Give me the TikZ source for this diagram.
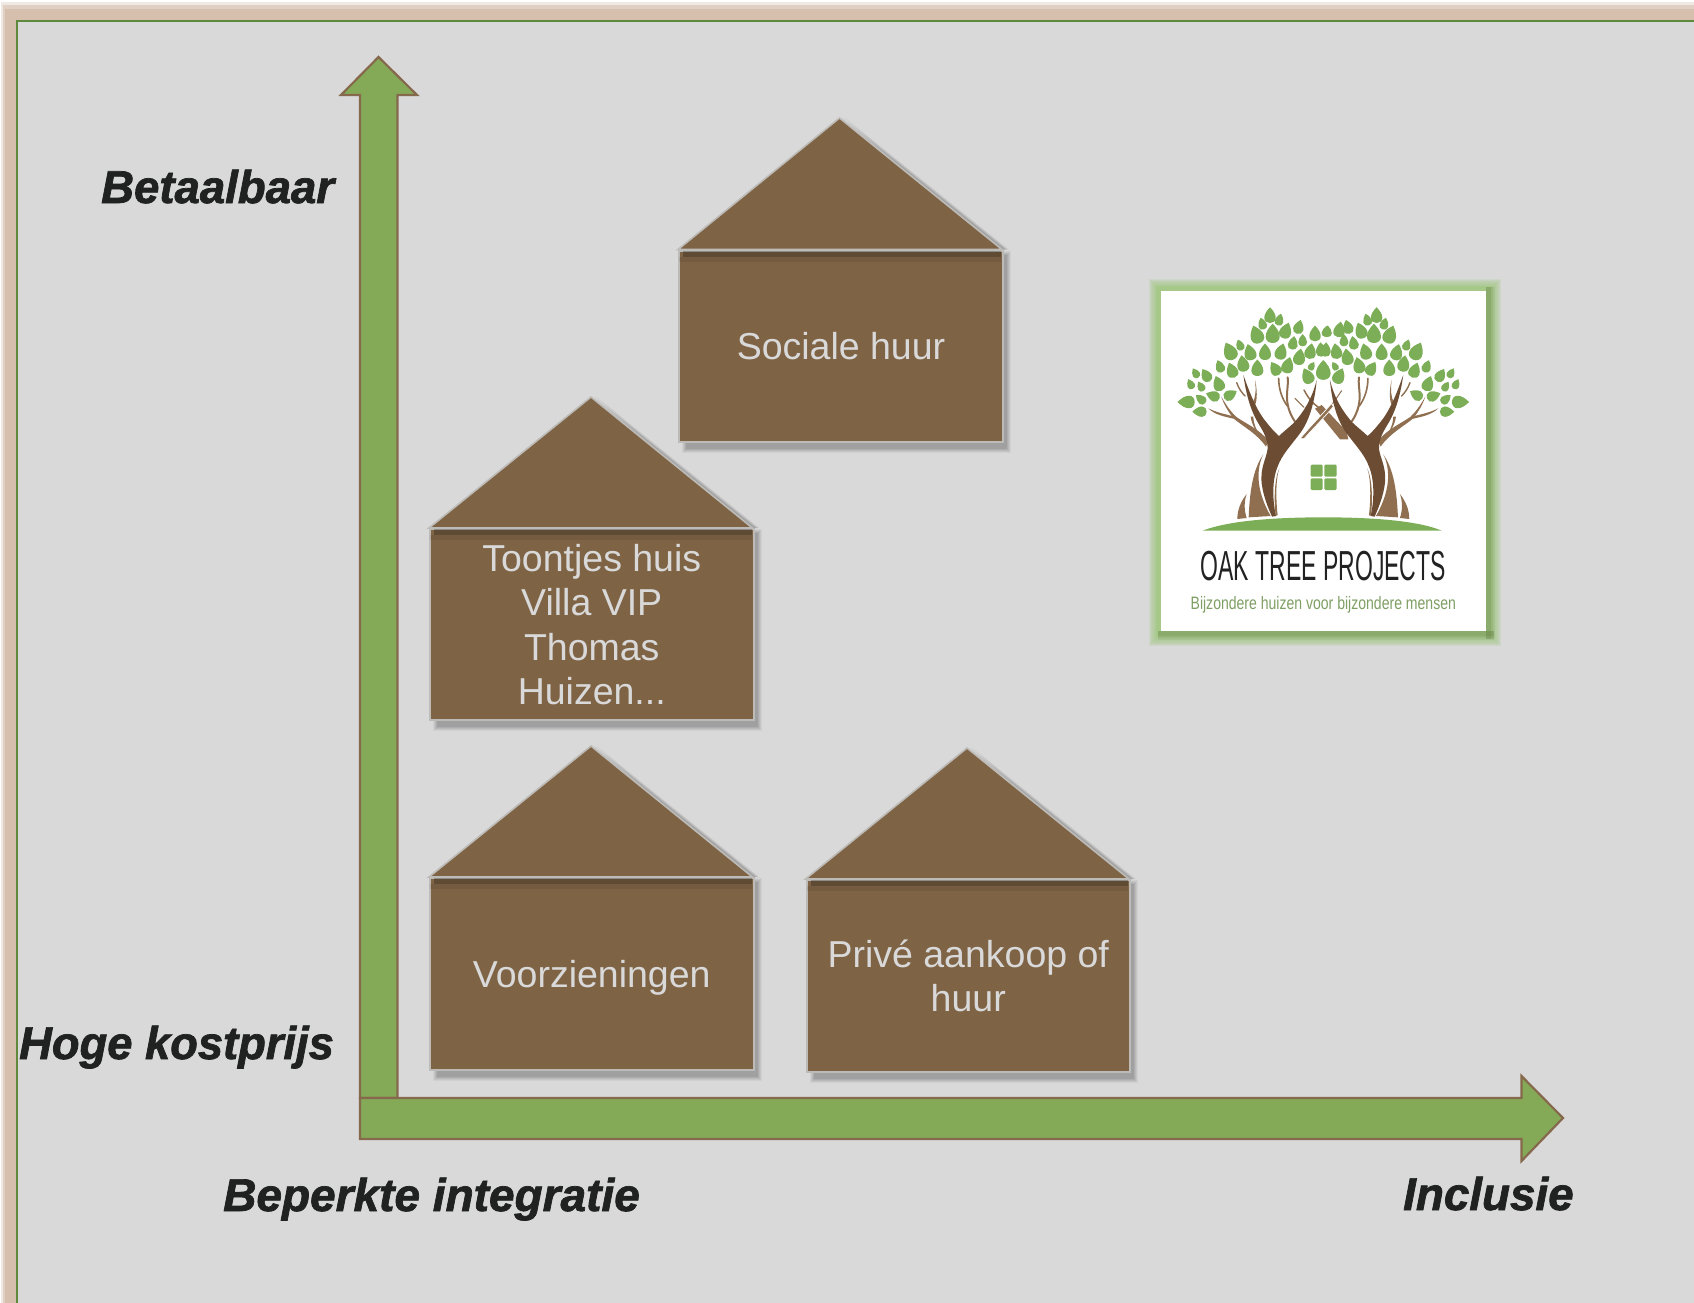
\documentclass[tikz,border=0pt]{standalone}
\usepackage{fontspec}
\usepackage{graphicx}
\setmainfont{Liberation Sans}
\newfontfamily\labfont[BoldItalicFeatures={FakeBold=1.6}]{Liberation Sans}
\definecolor{panel}{HTML}{D9D9D9}
\definecolor{band}{HTML}{D6BFAD}
\definecolor{edge}{HTML}{5F8A3C}
\definecolor{arrowg}{HTML}{84AA58}
\definecolor{arrowb}{HTML}{86694C}
\definecolor{hbrown}{HTML}{7F6345}
\definecolor{hline}{HTML}{BDBBB8}
\definecolor{labelk}{HTML}{202222}
\definecolor{leafg}{HTML}{7BAE57}
\definecolor{dkb}{HTML}{6C4D34}
\definecolor{ltb}{HTML}{8F6F50}
\definecolor{tagg}{HTML}{7F9F64}
\definecolor{glowg}{HTML}{A6C98A}
\definecolor{logok}{HTML}{222222}
\tikzset{
  axisarrow/.style={fill=arrowg,draw=arrowb,line width=2.2pt,line join=miter},
  axislabel/.style={font=\labfont\fontsize{46}{50}\selectfont\bfseries\itshape,text=labelk,inner sep=0pt,anchor=base west},
  housebody/.style={inner sep=0pt,rectangle,align=center,text=panel,font=\fontsize{37.5}{44.5}\selectfont},
  leaf/.style={fill=leafg},
  trunkd/.style={fill=dkb},
  trunkl/.style={fill=ltb},
  twig/.style={draw=ltb,line cap=round,fill=none}
}
\newcommand{\lf}[4]{\fill[leaf,shift={(#1,#2)},rotate=#3,scale=#4]
 (0,-1.15) .. controls (0.48,-0.65) and (0.78,-0.2) .. (0.78,0.3) .. controls (0.78,0.75) and (0.42,1) .. (0,1) .. controls (-0.42,1) and (-0.78,0.75) .. (-0.78,0.3) .. controls (-0.78,-0.2) and (-0.48,-0.65) .. (0,-1.15) -- cycle;}
\newcommand{\leafset}{%
\lf{300}{47}{0}{22}\lf{277}{72}{15}{17}\lf{328}{60}{-15}{17}
\lf{260}{105}{20}{26}\lf{308}{102}{0}{27}\lf{347}{93}{-20}{23}\lf{386}{82}{-15}{20}
\lf{210}{136}{20}{16}\lf{180}{155}{25}{26}\lf{240}{158}{15}{23}\lf{285}{157}{0}{23}\lf{333}{156}{-15}{23}\lf{369}{130}{-10}{19}\lf{398}{122}{0}{17}
\lf{388}{172}{-10}{23}\lf{421}{155}{-10}{22}\lf{453}{150}{5}{20}
\lf{150}{200}{20}{18}\lf{186}{212}{20}{22}\lf{219}{192}{10}{23}\lf{262}{205}{0}{23}\lf{316}{207}{30}{21}\lf{353}{197}{-15}{23}\lf{425}{199}{-30}{13}\lf{413}{229}{25}{23}\lf{459}{212}{0}{27}
\lf{77}{220}{30}{15}\lf{109}{227}{30}{20}\lf{62}{253}{25}{15}\lf{93}{260}{30}{15}\lf{146}{252}{20}{22}
\lf{130}{288}{70}{20}\lf{180}{285}{-60}{20}\lf{93}{298}{50}{17}\lf{50}{306}{90}{24}\lf{90}{335}{90}{20}
}
\newcommand{\treeset}{%
 % light branches behind
 \fill[trunkl] (198,230) .. controls (170,190) and (130,170) .. (100,145) .. controls (85,125) and (72,105) .. (64,80) .. controls (78,105) and (92,125) .. (108,140) .. controls (135,160) and (175,175) .. (205,212) -- cycle;
 \fill[trunkl] (100,146) .. controls (75,140) and (45,135) .. (25,115) .. controls (50,128) and (75,132) .. (104,140) -- cycle;
 \fill[trunkl] (152,140) .. controls (155,165) and (170,190) .. (200,225) .. controls (175,195) and (160,165) .. (160,140) -- cycle;
 \fill[trunkl] (165,30) .. controls (172,60) and (172,90) .. (165,105) -- (157,100) .. controls (168,80) and (168,60) .. (165,30) -- cycle;
 \draw[twig,line width=1.4pt] (110,38) .. controls (116,55) and (125,68) .. (135,78);
 \draw[twig,line width=1.6pt] (236,25) .. controls (236,55) and (245,85) .. (262,108);
 \draw[twig,line width=2pt] (263,22) .. controls (268,55) and (245,95) .. (285,155);
 % light lower trunk
 \fill[trunkl] (190,253) .. controls (165,290) and (150,340) .. (146,442) -- (212,438) .. controls (190,400) and (168,345) .. (178,290) .. controls (180,278) and (184,265) .. (190,253) -- cycle;
 \fill[trunkl] (140,372) .. controls (122,395) and (112,420) .. (112,447) -- (140,444) .. controls (132,420) and (132,395) .. (140,372) -- cycle;
 \fill[trunkl] (238,295) .. controls (226,330) and (228,395) .. (233,436) -- (227,437) .. controls (222,395) and (222,330) .. (238,295) -- cycle;
 % dark Y trunk
 \fill[trunkd] (130,15) .. controls (138,70) and (150,120) .. (178,165) .. controls (190,185) and (202,205) .. (203,235) .. controls (200,265) and (180,290) .. (185,340) .. controls (190,380) and (205,415) .. (216,440) -- (228,438) .. controls (218,395) and (215,335) .. (232,292) .. controls (245,255) and (270,230) .. (300,190) .. controls (330,150) and (345,90) .. (350,30) .. controls (335,90) and (310,125) .. (285,155) .. controls (268,172) and (250,185) .. (237,198) .. controls (222,185) and (205,165) .. (190,145) .. controls (165,110) and (148,65) .. (130,15) -- cycle;
}
\newcommand{\house}[8]{% name, apex x, apex y, x0, y0, x1, y1, text
 % soft shadow
 \foreach \d/\o in {4/0.04,3/0.05,2/0.06,1/0.06,0/0.08}{
  \fill[black,opacity=\o] ({#4+8-\d},{#5+5-\d}) rectangle ({#6+5+\d},{#7+8+\d});
  \fill[black,opacity=\o] ({#2+2+\d},{#3}) -- ({#6+3+\d},{#5}) -- ({#6-8},{#5}) -- cycle;
 }
 \fill[hbrown,draw=hline,line width=1.6pt,line join=miter] (#2,#3) -- (#4,#5) -- (#6,#5) -- cycle;
 \node[housebody,fill=hbrown,draw=hline,line width=2pt,minimum width={#6-#4},minimum height={#7-#5},anchor=north west] (#1) at (#4,#5) {};
 \fill[black,opacity=0.25] ({#4+5},{#5+1}) rectangle ({#6-1},{#5+7});
 \fill[black,opacity=0.08] ({#4+1},{#5+7}) rectangle ({#6-1},{#5+12});
 \node[housebody] (#1text) at (#1.center) {#8};
}
\begin{document}
\begin{tikzpicture}[x=1pt,y=-1pt]
\useasboundingbox (0,0) rectangle (1694,1303);
% page and frame
\fill[white] (0,0) rectangle (1694,1303);
\fill[band,opacity=0.35] (1,2) rectangle (1694,1303);
\fill[band,opacity=0.6] (3,5) rectangle (1694,1303);
\fill[band] (5,9) rectangle (1694,1303);
\fill[panel,draw=edge,line width=2pt] (17,21.5) rectangle (1700,1310);
% vertical arrow
\draw[axisarrow] (378.5,57) -- (417,95) -- (397.5,95) -- (397.5,1098) -- (360,1098) -- (360,95) -- (341,95) -- cycle;
% horizontal arrow
\draw[axisarrow] (360,1098) -- (1521.5,1098) -- (1521.5,1076) -- (1563,1118) -- (1521.5,1161) -- (1521.5,1139) -- (360,1139) -- cycle;
% houses
\house{sociale}{839.5}{118}{678}{249.5}{1002}{441}{Sociale huur}
\house{toontjes}{591}{397}{429}{528}{752.5}{719}{Toontjes huis\\Villa VIP\\Thomas\\Huizen...}
\house{voorz}{591}{746}{429}{877}{752.5}{1069}{\raisebox{0pt}[\height][0pt]{Voorzieningen}}
\house{prive}{967}{748}{805.5}{879}{1129}{1071}{Privé aankoop of\\huur}
% axis labels
\node[axislabel] (betaalbaar) at (101,203) {\scalebox{0.99}[1]{Betaalbaar}};
\node[axislabel] (hoge) at (19,1059) {\scalebox{0.985}[1]{Hoge kostprijs}};
\node[axislabel] (beperkt) at (223,1211) {Beperkte integratie};
\node[axislabel] (inclusie) at (1403,1210) {\scalebox{0.995}[1]{Inclusie}};
% logo glow and frame
\foreach \d in {13,12,11,10,9,8,7,6}{
 \fill[glowg,opacity=0.2] ({1160-\d+2},{291-\d+1}) rectangle ({1486+\d+2},{631+\d+2});
}
\fill[glowg] (1156,286) rectangle (1492,637);
\foreach \w/\o in {9/0.12,7/0.15,5/0.2}{
 \fill[arrowg!75!black,opacity=\o] (1486,287) rectangle ({1486+\w},{639});
 \fill[arrowg!75!black,opacity=\o] (1158,631) rectangle ({1494},{631+\w});
}
\fill[white] (1161,291) rectangle (1486,631);
% logo centre: roof bands and twigs, behind the trunks
\begin{scope}[shift={(1280,370)},scale=1/3]
 \draw[twig,line width=1.5pt] (72,60) .. controls (85,85) and (98,100) .. (115,112);
 \draw[twig,line width=1pt] (45,85) -- (72,112);
 \draw[twig,line width=1pt] (185,62) -- (155,105);
 \fill[trunkl] (105,116) -- (125,105) -- (200,185) -- (205,208) -- (180,208) -- cycle;
 \fill[trunkl,draw=white,line width=0.7pt] (60,206) .. controls (90,170) and (125,135) .. (155,100) -- (160,110) .. controls (130,145) and (100,175) .. (72,206) -- cycle;
\end{scope}
% logo tree: left half, then mirrored
\begin{scope}[shift={(1200,370)},scale=1/3]\treeset\end{scope}
\begin{scope}[shift={(1446.6,370)},xscale=-1/3,yscale=1/3]\treeset\end{scope}
\begin{scope}[shift={(1170,300)},scale=1/3]
 \leafset
 \lf{435}{102}{0}{22}\lf{468}{95}{-10}{16}\lf{473}{95}{0}{16}\lf{508}{90}{-10}{22}
\end{scope}
\begin{scope}[shift={(1476.6,300)},xscale=-1/3,yscale=1/3]\leafset\end{scope}
\begin{scope}[shift={(1130,260)},scale=1/3]
 \fill[leafg] (218,812) .. controls (300,780) and (450,772) .. (580,772) .. controls (710,772) and (860,780) .. (935,812) -- cycle;
 \fill[leafg,rounded corners=1.2pt] (542,614) rectangle (578,650);
 \fill[leafg,rounded corners=1.2pt] (583,614) rectangle (620,650);
 \fill[leafg,rounded corners=1.2pt] (542,655) rectangle (578,690);
 \fill[leafg,rounded corners=1.2pt] (583,655) rectangle (620,690);
\end{scope}
\node[inner sep=0pt,text=logok] (logoname) at (1323.3,566) {\scalebox{0.547}[1]{\fontsize{42}{44}\selectfont OAK TREE PROJECTS}};
\node[inner sep=0pt,text=tagg] (logotag) at (1323.3,605) {\scalebox{0.78}[1]{\fontsize{18}{20}\selectfont Bijzondere huizen voor bijzondere mensen}};
\end{tikzpicture}
\end{document}
